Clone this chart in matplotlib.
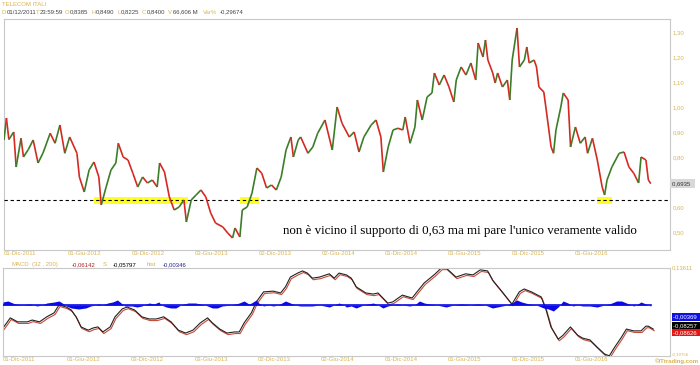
import matplotlib
matplotlib.use("Agg")
import matplotlib.pyplot as plt
import matplotlib.transforms as mtransforms
from matplotlib.collections import LineCollection
from matplotlib.patches import Rectangle
import numpy as np
from datetime import date

# - - - - data (x = weeks since 01-Dic-2011) - - - -
price_week = [0, 1, 2, 4, 5, 7, 8, 10, 12, 14,
              16, 19, 21, 23, 25, 27, 30, 31, 33, 35,
              37, 39, 40, 42, 44, 46, 47, 49, 51, 53,
              55, 57, 59, 61, 63, 64, 66, 68, 70, 72,
              74, 75, 77, 79, 81, 83, 85, 87, 90, 92,
              94, 95, 97, 98, 100, 102, 104, 106, 108, 110,
              112, 114, 116, 118, 119, 121, 122, 125, 127, 129,
              132, 135, 137, 139, 142, 144, 146, 148, 151, 153,
              155, 156, 158, 160, 162, 164, 165, 167, 169, 170,
              172, 174, 176, 177, 179, 181, 183, 185, 186, 188,
              190, 192, 194, 195, 197, 198, 199, 201, 202, 203,
              205, 207, 208, 209, 211, 212, 214, 215, 216, 218,
              219, 220, 222, 223, 225, 226, 227, 229, 230, 232,
              233, 235, 237, 239, 240, 242, 244, 246, 247, 248,
              250, 253, 255, 257, 259, 261, 262, 264, 265, 266]
price_close = [0.868, 0.956, 0.87, 0.90, 0.76, 0.875, 0.80, 0.83, 0.868, 0.776,
               0.815, 0.895, 0.855, 0.928, 0.815, 0.88, 0.815, 0.72, 0.66, 0.748,
               0.78, 0.72, 0.608, 0.68, 0.748, 0.776, 0.855, 0.80, 0.788, 0.735,
               0.68, 0.72, 0.696, 0.708, 0.68, 0.776, 0.74, 0.64, 0.588, 0.60,
               0.628, 0.54, 0.628, 0.648, 0.668, 0.64, 0.576, 0.536, 0.52, 0.496,
               0.476, 0.516, 0.48, 0.588, 0.60, 0.656, 0.756, 0.735, 0.676, 0.688,
               0.668, 0.72, 0.828, 0.88, 0.80, 0.868, 0.88, 0.815, 0.84, 0.895,
               0.948, 0.828, 1.0, 0.935, 0.88, 0.90, 0.82, 0.88, 0.928, 0.948,
               0.88, 0.74, 0.84, 0.908, 0.915, 0.908, 0.96, 0.855, 0.92, 1.028,
               0.948, 1.04, 1.056, 1.136, 1.088, 1.128, 1.08, 1.02, 1.108, 1.16,
               1.128, 1.176, 1.108, 1.256, 1.20, 1.268, 1.188, 1.136, 1.096, 1.136,
               1.08, 1.108, 1.028, 1.188, 1.316, 1.16, 1.188, 1.24, 1.176, 1.188,
               1.16, 1.08, 1.06, 0.988, 0.84, 0.815, 0.908, 1.0, 1.056, 1.028,
               0.84, 0.92, 0.855, 0.88, 0.815, 0.875, 0.788, 0.68, 0.648, 0.708,
               0.76, 0.815, 0.82, 0.76, 0.735, 0.696, 0.80, 0.788, 0.708, 0.6935]

support_level = 0.63
support_zones = [(37, 75.6), (96.9, 105), (244, 250)]   # yellow marks (weeks)

macd_week = [0, 3, 6, 10, 12, 15, 18, 21, 23, 26,
             28, 30, 32, 35, 37, 39, 41, 44, 46, 49,
             51, 54, 57, 60, 63, 66, 69, 72, 75, 78,
             81, 84, 86, 89, 92, 95, 97, 99, 102, 104,
             107, 111, 114, 116, 118, 121, 123, 125, 127, 130,
             134, 136, 138, 141, 143, 145, 149, 152, 154, 158,
             160, 164, 168, 170, 173, 177, 180, 182, 186, 190,
             193, 196, 199, 201, 205, 207, 209, 212, 214, 217,
             221, 223, 225, 228, 230, 233, 236, 238, 241, 244,
             247, 249, 251, 254, 256, 259, 262, 264, 265, 267]
macd_line = [-0.030, -0.002, -0.013, -0.013, -0.008, -0.013, 0.001, 0.012, 0.034, 0.028,
             0.020, 0.001, -0.027, -0.036, -0.030, -0.027, -0.041, -0.027, 0.001, 0.023,
             0.028, 0.020, 0.001, -0.005, -0.005, 0.001, -0.013, -0.036, -0.044, -0.036,
             -0.016, -0.002, -0.016, -0.033, -0.044, -0.041, -0.041, -0.016, 0.012, 0.042,
             0.070, 0.072, 0.067, 0.084, 0.111, 0.122, 0.128, 0.122, 0.108, 0.111,
             0.120, 0.108, 0.122, 0.117, 0.108, 0.084, 0.067, 0.064, 0.067, 0.039,
             0.042, 0.061, 0.053, 0.070, 0.095, 0.117, 0.136, 0.136, 0.111, 0.120,
             0.117, 0.131, 0.128, 0.103, 0.070, 0.053, 0.036, 0.070, 0.078, 0.070,
             0.056, 0.020, -0.027, -0.061, -0.050, -0.027, -0.050, -0.058, -0.063, -0.083,
             -0.102, -0.107, -0.085, -0.055, -0.033, -0.038, -0.038, -0.025, -0.025, -0.033]

hist_week = [0, 2, 5, 8, 11, 14, 16, 18, 21, 23,
             25, 26, 28, 31, 34, 36, 38, 39, 41, 43,
             45, 47, 49, 50, 53, 55, 57, 58, 60, 62,
             64, 65, 67, 69, 71, 73, 76, 79, 81, 83,
             86, 88, 90, 94, 97, 99, 101, 102, 104, 105,
             107, 109, 111, 113, 116, 118, 120, 122, 127, 130,
             134, 136, 138, 140, 141, 143, 145, 148, 152, 154,
             156, 158, 160, 162, 164, 167, 169, 171, 173, 175,
             178, 182, 185, 188, 192, 195, 198, 201, 203, 205,
             207, 209, 211, 213, 216, 219, 222, 224, 226, 228,
             229, 230, 232, 234, 236, 238, 241, 244, 247, 249,
             252, 254, 256, 258, 259, 260, 262, 264, 266]
hist_val = [0.003, 0.004, 0.001, 0, 0.001, -0.001, 0, 0.002, 0.003, 0.004,
            0.001, -0.001, -0.003, -0.004, -0.003, -0.001, 0, 0.001, 0, 0.002,
            0.003, 0.005, 0.001, -0.001, -0.001, -0.002, -0.001, 0, 0.002, 0.001,
            0.003, 0, -0.002, -0.003, -0.003, 0, 0.002, 0.002, 0.001, 0,
            -0.003, -0.003, -0.001, 0, 0.002, 0.004, 0.001, 0.002, 0.005, 0.002,
            -0.001, 0, -0.001, 0, 0.004, 0.002, 0, -0.001, -0.001, 0,
            -0.002, 0, 0.002, 0, -0.002, -0.001, -0.003, 0, 0.002, 0,
            -0.003, -0.001, 0, 0.001, 0, -0.001, 0, 0.004, 0.002, 0.001,
            0, -0.002, 0, 0.001, 0, 0.001, 0, -0.003, -0.002, -0.001,
            0, 0.002, 0.005, 0.003, 0.001, 0, -0.003, -0.004, -0.006, -0.002,
            0.001, 0.004, 0.002, -0.001, 0, -0.001, -0.001, -0.002, 0, 0.001,
            0.004, 0.004, 0.002, 0, -0.001, 0, 0.003, 0.001, -0.001]

tick_dates = [date(2011, 12, 1), date(2012, 6, 1), date(2012, 12, 3), date(2013, 6, 3),
              date(2013, 12, 2), date(2014, 6, 2), date(2014, 12, 1), date(2015, 6, 1),
              date(2015, 12, 1), date(2016, 6, 1)]
tick_labels = ["01-Dic-2011", "01-Giu-2012", "03-Dic-2012", "03-Giu-2013", "02-Dic-2013",
               "02-Giu-2014", "01-Dic-2014", "01-Giu-2015", "01-Dic-2015", "01-Giu-2016"]
price_ticks = [0.5, 0.6, 0.8, 0.9, 1.0, 1.1, 1.2, 1.3]

assert len(price_week) == len(price_close)
assert len(macd_week) == len(macd_line)
assert len(hist_week) == len(hist_val)

GOLD = "#d8b450"
GRID = "#c8c8c8"
FONT = "Liberation Sans"
FS = 4.3

W, H = 700, 365
def fx(px):
    return px / W
def fy(py):
    return 1 - py / H

fig = plt.figure(figsize=(7, 3.65), dpi=100)
fig.patch.set_facecolor("white")

tick_weeks = [(d - date(2011, 12, 1)).days / 7 for d in tick_dates]

def style_axes(a):
    for s in a.spines.values():
        s.set_color(GRID)
        s.set_linewidth(0.8)
    a.set_xticks(tick_weeks, tick_labels)
    for t in a.get_xticklabels():
        t.set_ha("left")
        t.set_fontfamily(FONT)
    a.tick_params(axis="x", length=0, pad=1, labelsize=FS, labelcolor=GOLD)

# - - - - - - - - price panel - - - - - - - - -
ax = fig.add_axes([fx(4), fy(250), fx(670) - fx(4), fy(19) - fy(250)])
ax.set_xlim(0.4, 273.9)
ax.set_ylim(0.428, 1.352)
style_axes(ax)

pts = np.column_stack([price_week, price_close])
segs = np.stack([pts[:-1], pts[1:]], axis=1)
up = np.diff(price_close) >= 0
cols = np.where(up, "#3c7d28", "#d42a22")
ax.add_collection(LineCollection(segs, colors=cols, linewidths=1.2, zorder=4))

for a, b in support_zones:
    ax.add_patch(Rectangle((a, 0.612), b - a, 0.029, color="#ffff22", lw=0, zorder=2))
ax.axhline(support_level, color="black", lw=0.8, ls=(0, (3, 2.5)), zorder=3)

ax.yaxis.tick_right()
ax.set_yticks(price_ticks, [f"{v:.2f}".replace(".", ",") for v in price_ticks])
for t in ax.get_yticklabels():
    t.set_fontfamily(FONT)
ax.tick_params(axis="y", length=0, pad=2, labelsize=FS, labelcolor=GOLD)

last_tr = mtransforms.blended_transform_factory(ax.transAxes, ax.transData)
ax.text(1.003, price_close[-1], f"{price_close[-1]:.4f}".replace(".", ",") + "  ",
        transform=last_tr, ha="left", va="center", fontsize=FS, family=FONT,
        color="#333333", bbox=dict(facecolor="#d8d8d8", edgecolor="none", pad=1.2))

fig.text(fx(283), fy(231), "non è vicino il supporto di 0,63 ma mi pare l'unico veramente valido",
         ha="left", va="center", fontsize=9.4, family="Liberation Serif", color="black")

# header
fig.text(fx(2), fy(4), "TELECOM ITALI", ha="left", va="center", fontsize=FS, family=FONT, color=GOLD)
header = [(2, "D", GOLD), (7, "01/12/2011", "#444"), (36, "T", GOLD), (40, "23:59:59", "#444"),
          (65, "O", GOLD), (70, "0,8385", "#444"), (91, "H", GOLD), (96, "0,8490", "#444"),
          (117, "L", GOLD), (121, "0,8225", "#444"), (142, "C", GOLD), (147, "0,8400", "#444"),
          (168, "V", GOLD), (173, "66,606 M", "#444"), (203, "Var%", GOLD), (220, "-0,29674", "#444")]
for x, s, c in header:
    fig.text(fx(x), fy(12), s, ha="left", va="center", fontsize=FS, family=FONT, color=c)

# - - - - - - - - MACD panel - - - - - - - - -
ax2 = fig.add_axes([fx(3), fy(356), fx(670) - fx(3), fy(268) - fy(356)])
ax2.set_xlim(0, 273.9)
ax2.set_ylim(-0.10756, 0.13611)
style_axes(ax2)
ax2.set_yticks([])

sig_tr = mtransforms.offset_copy(ax2.transData, fig=fig, x=1.0, y=-1.6, units="dots")
ax2.plot(macd_week, macd_line, color="#c84a3a", lw=0.8, transform=sig_tr)
ax2.plot(macd_week, macd_line, color="#222222", lw=0.8)

axh = ax2.twinx()
axh.set_ylim(-0.051, 0.037)
axh.fill_between(hist_week, hist_val, 0, color="#0a0ae6", lw=0)
axh.axhline(0, xmin=0, xmax=max(hist_week) / 273.9, color="#0a0ae6", lw=1.2)
axh.set_yticks([])
axh.set_xlim(0, 273.9)
for s in axh.spines.values():
    s.set_visible(False)

macd_head = [(12, "MACD", GOLD), (32, "(32 , 200)", GOLD), (72, "-0,06142", "#b02020"),
             (103, "S", GOLD), (113, "-0,05797", "black"), (147, "hist", GOLD), (163, "-0,00346", "#202090")]
for x, s, c in macd_head:
    fig.text(fx(x), fy(264.5), s, ha="left", va="center", fontsize=FS, family=FONT, color=c)

fig.text(fx(672), fy(268), "0,13611", ha="left", va="center", fontsize=FS, family=FONT, color=GOLD)
fig.text(fx(672), fy(354.5), "-0,10756", ha="left", va="center", fontsize=3.2, family=FONT, color=GOLD)
boxes = [(317, "-0,00369", "#1212e0"), (325.5, "-0,08257", "black"), (332.5, "-0,08626", "#e01818")]
for y, s, c in boxes:
    fig.text(fx(673), fy(y), s + " ", ha="left", va="center", fontsize=FS, family=FONT,
             color="white", bbox=dict(facecolor=c, edgecolor="none", pad=1.0))
fig.text(fx(699), fy(361), "©ITtrading.com", ha="right", va="center", fontsize=FS,
         family=FONT, color=GOLD, weight="bold")

fig.savefig("out.png", dpi=100)
